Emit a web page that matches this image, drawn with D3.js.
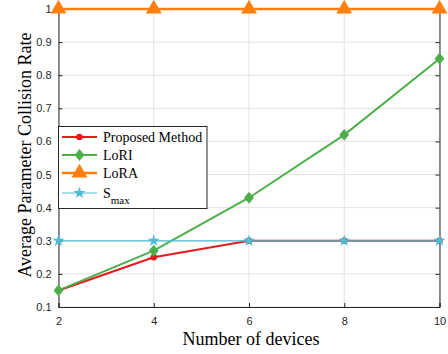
<!DOCTYPE html>
<html><head><meta charset="utf-8">
<script src="https://cdn.jsdelivr.net/npm/d3@7"></script>
<style>body{margin:0;background:#fff}svg{display:block}</style>
</head><body>
<script>
const devices = [2, 4, 6, 8, 10];
const proposed = [0.15, 0.25, 0.30, 0.30, 0.30];
const lori = [0.15, 0.27, 0.43, 0.62, 0.85];
const lora = [1, 1, 1, 1, 1];
const smax = [0.30, 0.30, 0.30, 0.30, 0.30];
const xTicks = [2, 4, 6, 8, 10];
const yTicks = [0.1, 0.2, 0.3, 0.4, 0.5, 0.6, 0.7, 0.8, 0.9, 1];
const seriesNames = ["Proposed Method", "LoRI", "LoRA", "S"];

const W = 448, H = 354;
const m = {l: 58.5, r: 8.5, t: 9, b: 47};
const svg = d3.select("body").append("svg").attr("width", W).attr("height", H);
const x = d3.scaleLinear().domain([2, 10]).range([m.l, W - m.r]);
const y = d3.scaleLinear().domain([0.1, 1]).range([H - m.b, m.t]);

// grid
const g = svg.append("g");
g.selectAll(".gx").data(xTicks).enter().append("line")
  .attr("x1", d => x(d)).attr("x2", d => x(d)).attr("y1", y(0.1)).attr("y2", y(1))
  .attr("stroke", "#e3e3e3").attr("stroke-width", 1);
g.selectAll(".gy").data(yTicks).enter().append("line")
  .attr("x1", x(2)).attr("x2", x(10)).attr("y1", d => y(d)).attr("y2", d => y(d))
  .attr("stroke", "#e3e3e3").attr("stroke-width", 1);

// axes
const xa = svg.append("g").attr("transform", `translate(0,${y(0.1)})`)
  .call(d3.axisBottom(x).tickValues(xTicks).tickSize(-4).tickPadding(10).tickFormat(d3.format("d")));
const ya = svg.append("g").attr("transform", `translate(${x(2)},0)`)
  .call(d3.axisLeft(y).tickValues(yTicks).tickSize(-4).tickPadding(7).tickFormat(d => d === 1 ? "1" : d3.format(".1f")(d)));
const yr = svg.append("g").attr("transform", `translate(${x(10)},0)`)
  .call(d3.axisRight(y).tickValues(yTicks).tickSize(-4).tickFormat(""));
const xt = svg.append("g").attr("transform", `translate(0,${y(1)})`)
  .call(d3.axisTop(x).tickValues(xTicks).tickSize(-4).tickFormat(""));
[xa, ya, yr, xt].forEach(a => {
  a.select(".domain").attr("stroke", "#262626").attr("stroke-width", 1);
  a.selectAll(".tick line").attr("stroke", "#262626");
  a.selectAll("text").attr("font-family", "Liberation Sans, Arial, sans-serif")
    .attr("font-size", 11).attr("fill", "#262626");
});

// custom wide diamond (MATLAB-like)
const wideDiamond = {draw(ctx, size) {
  const hw = Math.sqrt(size) * 0.55, hh = Math.sqrt(size) * 0.66;
  ctx.moveTo(0, -hh); ctx.lineTo(hw, 0); ctx.lineTo(0, hh); ctx.lineTo(-hw, 0); ctx.closePath();
}};

// series
const cfg = [
  {vals: proposed, color: "#e41a1c", w: 2, marker: "circle", size: 34},
  {vals: lori, color: "#4daf4a", w: 2, marker: "diamond", size: 80},
  {vals: lora, color: "#ff7f0e", w: 2.5, marker: "triangle", size: 110},
  {vals: smax, color: "#4cbdd4", w: 1.2, marker: "star", size: 45}
];
const symMap = {circle: d3.symbolCircle, diamond: wideDiamond, triangle: d3.symbolTriangle, star: d3.symbolStar};
const line = d3.line().x((d, i) => x(devices[i])).y(d => y(d));
cfg.forEach(c => {
  svg.append("path").attr("d", line(c.vals)).attr("fill", "none")
    .attr("stroke", c.color).attr("stroke-width", c.w);
  svg.selectAll(null).data(c.vals).enter().append("path")
    .attr("d", d3.symbol().type(symMap[c.marker]).size(c.size))
    .attr("transform", (d, i) => `translate(${x(devices[i])},${y(d)})`)
    .attr("fill", c.color);
});

// legend
const lg = svg.append("g");
lg.append("rect").attr("x", 58.5).attr("y", 126.5).attr("width", 148.5).attr("height", 82)
  .attr("fill", "#fff").attr("stroke", "#262626").attr("stroke-width", 1);
const ly = [137, 155, 173, 193];
cfg.forEach((c, i) => {
  lg.append("line").attr("x1", 62).attr("x2", 97).attr("y1", ly[i]).attr("y2", ly[i])
    .attr("stroke", c.color).attr("stroke-width", c.w);
  lg.append("path").attr("d", d3.symbol().type(symMap[c.marker]).size(c.size))
    .attr("transform", `translate(79.5,${ly[i]})`).attr("fill", c.color);
  const t = lg.append("text").attr("x", 103).attr("y", ly[i] + 5)
    .attr("font-family", "Liberation Serif, Times New Roman, serif").attr("font-size", 14)
    .attr("fill", "#000").text(seriesNames[i]);
  if (i === 3) {
    t.append("tspan").attr("dy", 6).attr("font-size", 11).text("max");
  }
});

// titles
svg.append("text").attr("x", 251).attr("y", 345).attr("text-anchor", "middle")
  .attr("font-family", "Liberation Serif, Times New Roman, serif").attr("font-size", 18)
  .attr("fill", "#000").text("Number of devices");
svg.append("text").attr("transform", `translate(31,155) rotate(-90)`).attr("text-anchor", "middle")
  .attr("font-family", "Liberation Serif, Times New Roman, serif").attr("font-size", 18)
  .attr("fill", "#000").text("Average Parameter Collision Rate");
</script>
</body></html>
